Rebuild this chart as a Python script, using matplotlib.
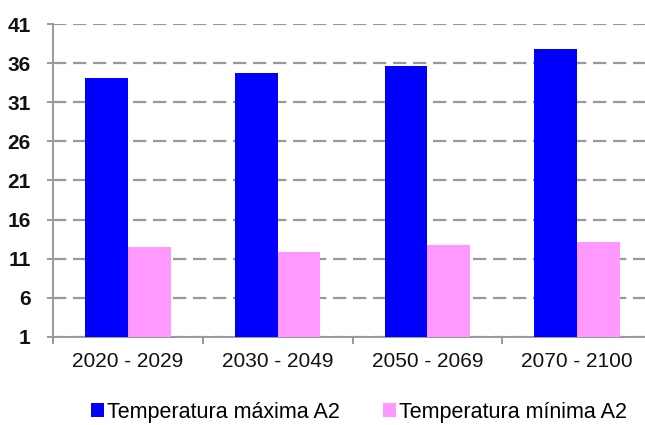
import matplotlib
matplotlib.use("Agg")
import matplotlib.pyplot as plt
import numpy as np

categories = ["2020 - 2029", "2030 - 2049", "2050 - 2069", "2070 - 2100"]
tmax = [34.1, 34.7, 35.6, 37.8]
tmin = [12.5, 11.8, 12.8, 13.2]
yticks = [1, 6, 11, 16, 21, 26, 31, 36, 41]
series_names = ["Temperatura máxima A2", "Temperatura mínima A2"]

plt.rcParams['font.family'] = ['Liberation Sans', 'DejaVu Sans']

fig = plt.figure(figsize=(6.45, 4.25), dpi=100)
ax = fig.add_axes([53/645, 88/425, 599/645, (337-24)/425])

x = np.arange(len(categories))
w = 0.285
ax.bar(x - w/2, tmax, width=w, bottom=0, color='#0000FF', label=series_names[0], zorder=3)
ax.bar(x + w/2, tmin, width=w, bottom=0, color='#FF99FF', label=series_names[1], zorder=3)

ax.set_ylim(1, 41)
ax.set_xlim(-0.5, len(categories) - 0.5)
ax.set_yticks(yticks)
ax.set_yticklabels([str(t) for t in yticks], fontsize=15, fontweight='bold', color='#111111')
ax.yaxis.grid(True, linestyle=(0, (6, 3)), color='#999999', linewidth=1.6, zorder=0)
ax.set_axisbelow(True)

ax.set_xticks(x)
ax.set_xticklabels(categories, fontsize=15, color='#111111')
ax.tick_params(axis='x', length=0, pad=11)
ax.set_xticks(np.arange(len(categories) + 1) - 0.5, minor=True)
ax.tick_params(axis='x', which='minor', length=5, color='#888888', width=1.2)
ax.tick_params(axis='y', length=4, color='#888888', width=1.2, pad=12)

for s in ['top', 'right']:
    ax.spines[s].set_visible(False)
for s in ['left', 'bottom']:
    ax.spines[s].set_color('#999999')
    ax.spines[s].set_linewidth(1.4)

fig.legend(loc='center', bbox_to_anchor=(0.556, 0.03), ncol=2, frameon=False,
           fontsize=15.5, handlelength=0.62, handleheight=0.62, handletextpad=0.12,
           columnspacing=2.0, borderpad=0.1)

fig.savefig("out.png", dpi=100)
